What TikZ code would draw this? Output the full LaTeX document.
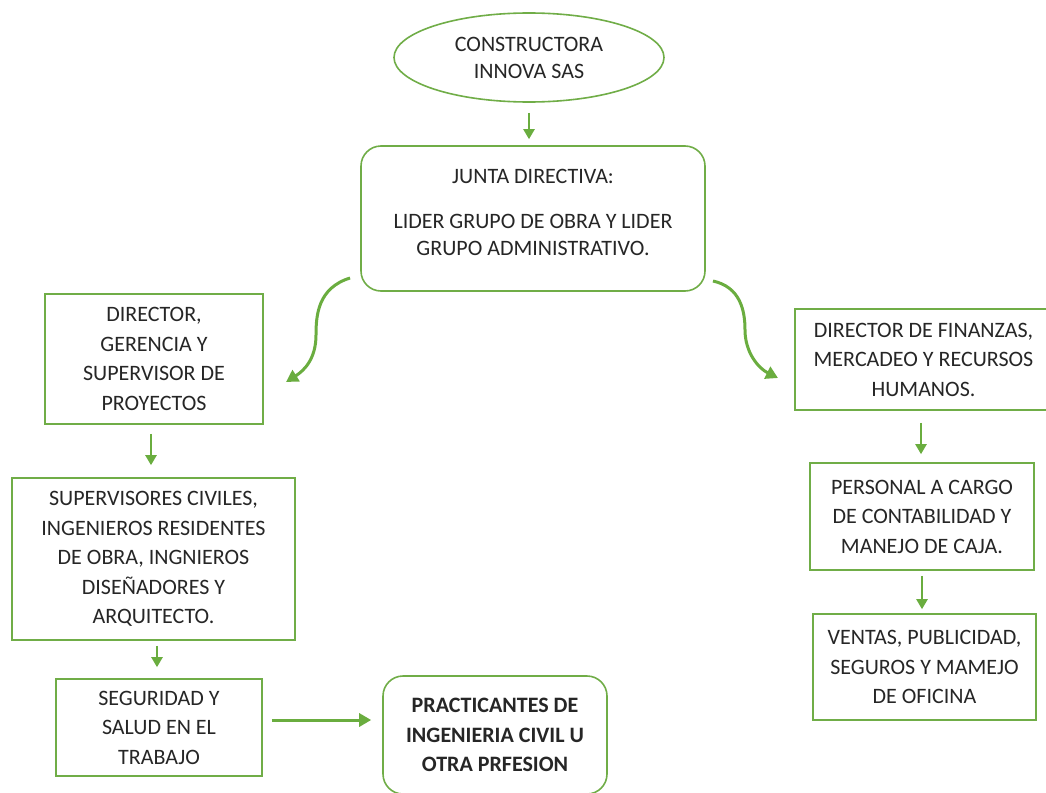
\documentclass[tikz,border=0pt]{standalone}
\usepackage{fontspec}
\setmainfont{Carlito}
\usetikzlibrary{shapes.geometric,arrows.meta,calc}
\definecolor{gr}{HTML}{70AD47}
\definecolor{grA}{HTML}{6AAD3F}
\begin{document}
\begin{tikzpicture}[x=1pt,y=-1pt,
  txt/.style={font=\fontsize{22}{29.5}\selectfont, align=center, text=black!85},
  sbox/.style={txt, draw=gr, line width=1.6pt, rectangle, inner sep=0pt},
  rbox/.style={sbox, rounded corners=20pt},
  ebox/.style={txt, draw=gr, line width=1.6pt, ellipse, inner sep=0pt},
  arr/.style={draw=grA, line width=2.2pt, -{Triangle[length=10pt,width=11pt]}},
  carr/.style={draw=grA, line width=3pt, -{Triangle[length=12pt,width=13pt]}}]
\useasboundingbox (0,0) rectangle (1046,792);
\clip (0,0) rectangle (1046,792);
\fill[white] (0,0) rectangle (1046,792);

\node[ebox, minimum width=270, minimum height=89, font=\fontsize{22}{27}\selectfont] (ceo) at (529,57.5) {CONSTRUCTORA\\INNOVA SAS};
\node[rbox, minimum width=344, minimum height=145] (junta) at (533,218.5) {};
\node[txt, font=\fontsize{22}{27}\selectfont] (juntatxt) at (533,212) {JUNTA DIRECTIVA:\\[18pt]LIDER GRUPO DE OBRA Y LIDER\\GRUPO ADMINISTRATIVO.};

\node[sbox, minimum width=218, minimum height=130] (dir) at (154,359) {DIRECTOR,\\GERENCIA Y\\SUPERVISOR DE\\PROYECTOS};
\node[sbox, minimum width=283, minimum height=162] (sup) at (153.5,559) {SUPERVISORES CIVILES,\\INGENIEROS RESIDENTES\\DE OBRA, INGNIEROS\\DISEÑADORES Y\\ARQUITECTO.};
\node[sbox, minimum width=206, minimum height=97] (seg) at (159,727.5) {SEGURIDAD Y\\SALUD EN EL\\TRABAJO};
\node[rbox, minimum width=224, minimum height=118, font=\bfseries\fontsize{22}{29.5}\selectfont] (prac) at (495,735) {PRACTICANTES DE\\INGENIERIA CIVIL U\\OTRA PRFESION};

\node[sbox, minimum width=257, minimum height=101] (fin) at (923.5,359.5) {DIRECTOR DE FINANZAS,\\MERCADEO Y RECURSOS\\HUMANOS.};
\node[sbox, minimum width=224, minimum height=107] (pers) at (922,516.5) {PERSONAL A CARGO\\DE CONTABILIDAD Y\\MANEJO DE CAJA.};
\node[sbox, minimum width=223, minimum height=106] (ven) at (924.5,667) {VENTAS, PUBLICIDAD,\\SEGUROS Y MAMEJO\\DE OFICINA};

\draw[arr, shorten <=10pt, shorten >=6pt] (ceo.south) -- (ceo.south |- junta.north);
\draw[arr, shorten <=9pt, shorten >=12pt] ([xshift=-3pt]dir.south) -- ([xshift=-3pt]dir.south |- sup.north);
\draw[arr, shorten <=5pt, shorten >=11pt] ([xshift=-2pt]sup.south -| seg.north) -- ([xshift=-2pt]seg.north);
\draw[carr, shorten <=9pt, shorten >=11pt] ([yshift=7.5pt]seg.east) -- ([yshift=7.5pt]seg.east -| prac.west);
\draw[arr, shorten <=12pt, shorten >=8pt] ([xshift=-2.5pt]fin.south) -- ([xshift=-2.5pt]fin.south |- pers.north);
\draw[arr, shorten <=5pt, shorten >=4pt] (pers.south) -- (pers.south |- ven.north);

\coordinate (ls) at (350,278);
\coordinate (lt) at (286,382);
\coordinate (rs) at (713,281);
\coordinate (rt) at (778,378);
\draw[carr] (ls) .. controls (318,288) and (316,315) .. (316,335) .. controls (316,358) and (305,370) .. (lt);
\draw[carr] (rs) .. controls (740,287) and (745,310) .. (745,330) .. controls (745,352) and (758,368) .. (rt);
\end{tikzpicture}
\end{document}
